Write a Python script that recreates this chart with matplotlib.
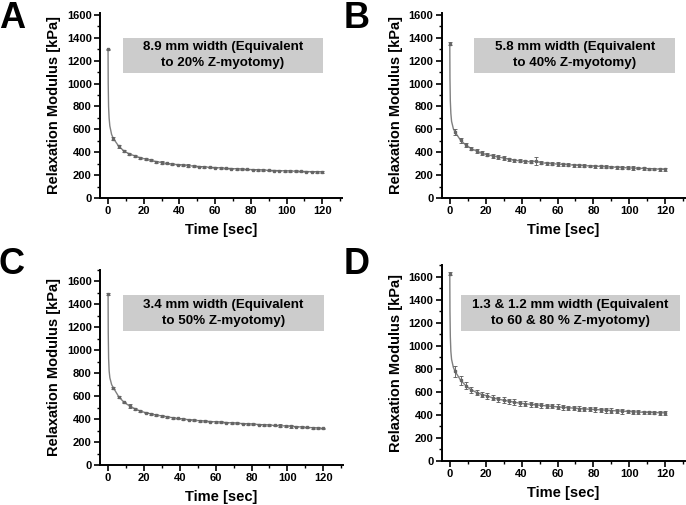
import matplotlib
matplotlib.use("Agg")
import matplotlib.pyplot as plt
from matplotlib.patches import Rectangle
from matplotlib.ticker import MultipleLocator

plt.rcParams['font.family'] = ['Liberation Sans', 'DejaVu Sans']
plt.rcParams['font.weight'] = 'bold'

# Время измерений (точки с погрешностями), сек
time = list(range(0, 121, 3))
# Ранние точки линии (крутой спад между 0 и 3 сек)
time_early = [0.1, 0.3, 0.6, 1, 2]

mod_a = [1300, 520, 452, 410, 385, 368, 352, 340, 330, 318, 310, 302, 295, 292, 288, 284,
         278, 275, 272, 268, 266, 263, 260, 257, 255, 252, 250, 248, 246, 244, 242, 240,
         239, 237, 236, 234, 233, 231, 230, 229, 228]
err_a = [6, 15, 12, 9, 8, 8, 8, 12, 9, 8, 12, 8, 8, 7, 7, 10, 7, 7, 8, 7, 7, 7, 6, 7, 7,
         10, 7, 7, 10, 7, 7, 7, 7, 7, 7, 7, 7, 8, 7, 7, 8]
early_a = [1000, 800, 700, 630, 555]

mod_b = [1350, 575, 505, 462, 432, 410, 390, 378, 368, 358, 350, 338, 330, 325, 320, 316,
         322, 308, 304, 300, 297, 294, 291, 288, 285, 283, 280, 278, 276, 273, 271, 269,
         266, 264, 262, 260, 258, 256, 254, 252, 250]
err_b = [12, 25, 20, 18, 15, 15, 18, 15, 15, 14, 20, 15, 14, 13, 13, 14, 35, 15, 14, 14,
         16, 15, 13, 13, 12, 12, 12, 12, 12, 12, 12, 12, 12, 12, 14, 10, 10, 10, 10, 12, 12]
early_b = [1050, 850, 740, 670, 605]

mod_c = [1490, 672, 594, 545, 515, 490, 470, 456, 445, 435, 428, 420, 412, 406, 400, 395,
         390, 386, 382, 379, 376, 373, 370, 367, 364, 361, 358, 356, 353, 350, 348, 345,
         343, 340, 337, 334, 331, 328, 325, 322, 319]
err_c = [7, 9, 8, 8, 20, 8, 7, 7, 7, 7, 7, 7, 7, 7, 9, 7, 7, 7, 7, 7, 7, 7, 7, 7, 7, 7,
         7, 7, 7, 7, 7, 7, 12, 7, 12, 7, 7, 7, 7, 7, 7]
early_c = [1150, 930, 820, 760, 700]

mod_d = [1625, 775, 700, 650, 615, 592, 575, 562, 545, 535, 525, 517, 508, 500, 495, 490,
         485, 481, 476, 472, 468, 464, 460, 457, 453, 450, 447, 445, 442, 439, 436, 433,
         431, 428, 425, 423, 421, 419, 418, 417, 416]
err_d = [10, 45, 40, 30, 25, 25, 25, 22, 22, 22, 25, 22, 25, 22, 22, 20, 20, 20, 20, 18,
         22, 20, 18, 18, 18, 16, 18, 18, 20, 22, 18, 18, 22, 16, 18, 16, 14, 16, 16, 16, 18]
early_d = [1300, 1080, 950, 880, 810]

titles = ["8.9 mm width (Equivalent\nto 20% Z-myotomy)",
          "5.8 mm width (Equivalent\nto 40% Z-myotomy)",
          "3.4 mm width (Equivalent\nto 50% Z-myotomy)",
          "1.3 & 1.2 mm width (Equivalent\nto 60 & 80 % Z-myotomy)"]
letters = ["A", "B", "C", "D"]

W, H = 686, 505
fig = plt.figure(figsize=(W / 100, H / 100), dpi=100)

# Положение осей в пикселях: (лево, право, верх, низ), верх оси y
axes_px = [(100, 342, 12.7, 198, 1620),
           (441.7, 685, 12.7, 198, 1620),
           (100, 343, 270, 465, 1700),
           (441.7, 685, 265, 460.7, 1700)]
# Серые плашки (в долях осей): x0, x1, низ, верх
boxes = [(0.095, 0.921, 0.677, 0.866),
         (0.133, 0.960, 0.677, 0.866),
         (0.095, 0.921, 0.687, 0.872),
         (0.078, 0.980, 0.663, 0.847)]
letter_px = [(-1, 1), (344, 1), (-1, 247), (344, 247)]

series = [(mod_a, err_a, early_a), (mod_b, err_b, early_b),
          (mod_c, err_c, early_c), (mod_d, err_d, early_d)]

for k in range(4):
    l, r, t, b, ytop = axes_px[k]
    ax = fig.add_axes([l / W, 1 - b / H, (r - l) / W, (b - t) / H])
    mod, err, early = series[k]

    # Линия: точки + ранний участок
    line_t = [time[0]] + time_early + time[1:]
    line_v = [mod[0]] + early + mod[1:]
    ax.plot(line_t, line_v, color="#808080", lw=1.0, zorder=2)
    ax.errorbar(time, mod, yerr=err, fmt="s", ms=1.5, color="#666666",
                ecolor="#555555", elinewidth=0.6, capsize=1.6, capthick=0.6, zorder=3)

    ax.set_xlim(-4.5, 131)
    ax.set_ylim(0, ytop)
    ax.xaxis.set_major_locator(MultipleLocator(20))
    ax.xaxis.set_minor_locator(MultipleLocator(10))
    ax.yaxis.set_major_locator(MultipleLocator(200))
    ax.yaxis.set_minor_locator(MultipleLocator(100))
    for s in ["top", "right"]:
        ax.spines[s].set_visible(False)
    for s in ["left", "bottom"]:
        ax.spines[s].set_linewidth(1.4)
    ax.tick_params(which="major", direction="out", length=4, width=1.2, labelsize=8, pad=2)
    ax.tick_params(which="minor", direction="out", length=2.2, width=1.0)
    for lab in ax.get_xticklabels() + ax.get_yticklabels():
        lab.set_fontweight("bold")

    ax.set_xlabel("Time [sec]", fontsize=10.5, fontweight="bold", labelpad=5)
    ax.set_ylabel("Relaxation Modulus [kPa]", fontsize=10.5, fontweight="bold", labelpad=4)

    x0, x1, y0, y1 = boxes[k]
    ax.add_patch(Rectangle((x0, y0), x1 - x0, y1 - y0, transform=ax.transAxes,
                           facecolor="#cccccc", edgecolor="none", zorder=1))
    ax.text((x0 + x1) / 2, (y0 + y1) / 2, titles[k], transform=ax.transAxes,
            ha="center", va="center", fontsize=9.6, fontweight="bold",
            linespacing=1.35, zorder=4)

    lx, ly = letter_px[k]
    fig.text(lx / W, 1 - ly / H, letters[k], ha="left", va="top",
             fontsize=26, fontweight="bold")

fig.savefig("out.png", dpi=100)
